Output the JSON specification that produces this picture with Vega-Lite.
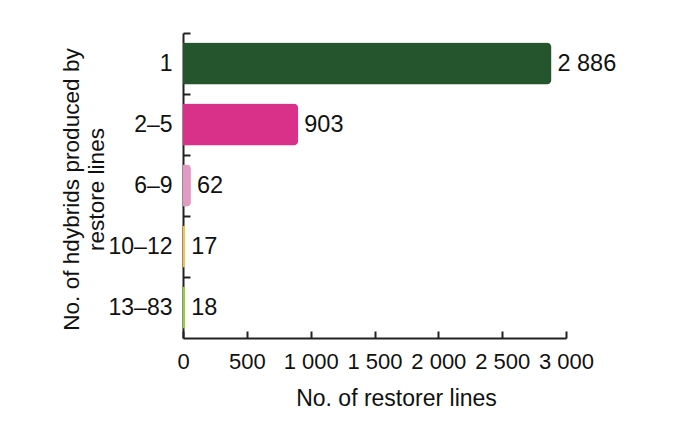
{
  "$schema": "https://vega.github.io/schema/vega-lite/v6.json",
  "width": 383,
  "height": 305,
  "autosize": {"type": "none"},
  "padding": {"left": 183, "top": 33, "right": 114, "bottom": 83},
  "background": "white",
  "config": {
    "locale": {"number": {"decimal": ".", "thousands": " ", "grouping": [3], "currency": ["", ""]}},
    "font": "Liberation Sans",
    "view": {"stroke": null},
    "axis": {"domainColor": "#222", "tickColor": "#222", "domainWidth": 2, "tickWidth": 2, "labelColor": "#111", "titleColor": "#111", "grid": false, "labelFontSize": 22, "titleFontSize": 23, "titleFontWeight": "normal"}
  },
  "data": {"values": [
    {"group": "1", "lines": 2886},
    {"group": "2–5", "lines": 903},
    {"group": "6–9", "lines": 62},
    {"group": "10–12", "lines": 17},
    {"group": "13–83", "lines": 18}
  ]},
  "encoding": {
    "y": {"field": "group", "type": "nominal", "sort": null,
      "scale": {"paddingInner": 0, "paddingOuter": 0},
      "axis": {"title": ["No. of hdybrids produced by", "restore lines"], "tickSize": -7, "bandPosition": 0, "labelPadding": 18, "labelFontSize": 23, "titleX": -112, "titleY": 156, "titleAngle": -90, "titleBaseline": "middle", "titleAlign": "center", "titleLineHeight": 25, "titleFontSize": 22.6}},
    "x": {"field": "lines", "type": "quantitative",
      "scale": {"domain": [0, 3000], "nice": false},
      "axis": {"values": [0, 500, 1000, 1500, 2000, 2500, 3000], "format": ",d", "tickSize": -7, "labelPadding": 20, "labelFontSize": 22, "labelFlush": false, "labelOverlap": false, "title": "No. of restorer lines", "titleX": 213, "titleY": 67, "titleBaseline": "alphabetic", "titleFontSize": 23}}
  },
  "layer": [
    {"mark": {"type": "bar", "cornerRadiusEnd": 5, "height": {"band": 0.69}},
     "encoding": {"color": {"field": "group", "type": "nominal", "sort": null, "legend": null,
       "scale": {"domain": ["1", "2–5", "6–9", "10–12", "13–83"], "range": ["#25552D", "#D9318A", "#E39BC3", "#F5C342", "#9ACD3A"]}}}},
    {"mark": {"type": "text", "align": "left", "dx": 6, "fontSize": 23.5, "color": "#111"},
     "encoding": {"text": {"field": "lines", "type": "quantitative", "format": ",d"}}}
  ]
}
